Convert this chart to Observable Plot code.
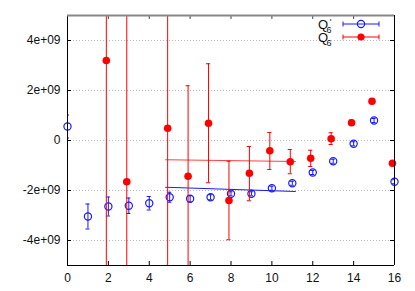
<!DOCTYPE html>
<html>
<head>
<meta charset="utf-8">
<script src="https://cdn.jsdelivr.net/npm/d3@7"></script>
<script src="https://cdn.jsdelivr.net/npm/@observablehq/plot@0.6"></script>
<style>
  html, body { margin: 0; padding: 0; background: #fff; }
  #chart svg { font-family: "Liberation Sans", Arial, sans-serif; }
</style>
</head>
<body>
<div id="chart"></div>
<script>
// ---- data (values in units of 1e9) ----
const xTicks = [0, 2, 4, 6, 8, 10, 12, 14, 16];
const yTicks = [-4e9, -2e9, 0, 2e9, 4e9];
const yTickLabels = ["-4e+09", "-2e+09", "0", "2e+09", "4e+09"];

// Q'6 (open blue circles)
const xQp = [0, 1, 2, 3, 4, 5, 6, 7, 8, 9, 10, 11, 12, 13, 14, 15, 16];
const yQp = [0.56, -3.04, -2.64, -2.61, -2.51, -2.27, -2.33, -2.27, -2.13, -2.13, -1.91, -1.71, -1.28, -0.83, -0.13, 0.80, -1.65];
const eQp = [0.46, 0.50, 0.38, 0.31, 0.27, 0.20, 0.12, 0.10, 0.08, 0.08, 0.08, 0.08, 0.08, 0.08, 0.08, 0.08, 0.08];

// Q6 (filled red circles)
const xQ = [1.9, 2.9, 4.9, 5.9, 6.9, 7.9, 8.9, 9.9, 10.9, 11.9, 12.9, 13.9, 14.9, 15.9];
const yQ = [3.2, -1.65, 0.49, -1.43, 0.69, -2.4, -1.31, -0.41, -0.85, -0.71, 0.07, 0.71, 1.57, -0.91];
const loQ = [-20, -20, -20, -20, -1.69, -3.97, -2.41, -1.16, -1.33, -1.04, -0.16, 0.60, 1.47, -1.0];
const hiQ = [20, 20, 20, 2.19, 3.07, -0.83, -0.24, 0.32, -0.36, -0.39, 0.31, 0.82, 1.67, -0.82];

// fit lines
const fitX = [4.8, 11.15];
const fitQp = [-1.87, -2.04];
const fitQ = [-0.77, -0.84];

const E = 1e9;
const BLUE = "#1a1aff";
const RED = "#ff0000";
const W = 415, H = 291;
const mL = 67, mR = 21, mT = 15, mB = 26;
const pw = W - mL - mR, ph = H - mT - mB;
const cap = 0.1;

const qp = xQp.map((x, i) => ({x, y: yQp[i] * E, lo: (yQp[i] - eQp[i]) * E, hi: (yQp[i] + eQp[i]) * E}));
const q = xQ.map((x, i) => ({x, y: yQ[i] * E, lo: loQ[i] * E, hi: hiQ[i] * E}));
const fitB = fitX.map((x, i) => ({x, y: fitQp[i] * E}));
const fitR = fitX.map((x, i) => ({x, y: fitQ[i] * E}));

const chart = Plot.plot({
  width: W, height: H,
  marginLeft: mL, marginRight: mR, marginTop: mT, marginBottom: mB,
  style: {fontFamily: '"Liberation Sans", Arial, sans-serif', fontSize: "12px", background: "#fff"},
  x: {domain: [0, 16]},
  y: {domain: [-5e9, 5e9]},
  marks: [
    Plot.gridY(yTicks, {stroke: "#b8b8b8", strokeOpacity: 1, strokeDasharray: "1,2"}),
    Plot.axisY(yTicks, {tickSize: 0, tickPadding: 7, label: null, fontSize: 12, fill: "#111",
      tickFormat: (d) => yTickLabels[yTicks.indexOf(d)]}),
    Plot.axisX(xTicks, {tickSize: 0, tickPadding: 8, label: null, fontSize: 12, fill: "#111"}),
    // inward ticks
    Plot.tickY(yTicks, {y: d => d, insetRight: pw - 4, stroke: "#000"}),
    Plot.tickY(yTicks, {y: d => d, insetLeft: pw - 4, stroke: "#000"}),
    Plot.tickX(xTicks, {x: d => d, insetTop: ph - 4, stroke: "#000"}),
    Plot.tickX(xTicks, {x: d => d, insetBottom: ph - 4, stroke: "#444"}),
    // fit lines
    Plot.line(fitB, {x: "x", y: "y", stroke: BLUE, strokeWidth: 1}),
    Plot.line(fitR, {x: "x", y: "y", stroke: RED, strokeWidth: 1, strokeOpacity: 0.75}),
    // Q'6 error bars + points
    Plot.ruleX(qp, {x: "x", y1: "lo", y2: "hi", stroke: BLUE, clip: true}),
    Plot.ruleY(qp, {y: "lo", x1: d => d.x - cap, x2: d => d.x + cap, stroke: BLUE, clip: true}),
    Plot.ruleY(qp, {y: "hi", x1: d => d.x - cap, x2: d => d.x + cap, stroke: BLUE, clip: true}),
    Plot.dot(qp, {x: "x", y: "y", r: 3.6, stroke: BLUE, fill: "none", strokeWidth: 1.2}),
    // Q6 error bars + points
    Plot.ruleX(q, {x: "x", y1: "lo", y2: "hi", stroke: RED, clip: true}),
    Plot.ruleY(q, {y: "lo", x1: d => d.x - cap, x2: d => d.x + cap, stroke: RED, clip: true}),
    Plot.ruleY(q, {y: "hi", x1: d => d.x - cap, x2: d => d.x + cap, stroke: RED, clip: true}),
    Plot.dot(q, {x: "x", y: "y", r: 3.8, fill: RED, stroke: "none"}),
    // border
    Plot.ruleX([0, 16], {stroke: "#000"}),
    Plot.ruleY([-5e9], {stroke: "#000"}),
    Plot.ruleY([5e9], {stroke: "#888", strokeWidth: 2})
  ]
});
document.getElementById("chart").appendChild(chart);

// ---- legend (inside plot, top right) ----
const svg = d3.select(chart);
const lg = svg.append("g").style("font-family", '"Liberation Sans", Arial, sans-serif');
const entries = [
  {y: 24, color: BLUE, open: true, prime: true},
  {y: 37, color: RED, open: false, prime: false}
];
entries.forEach(e => {
  lg.append("line").attr("x1", 343).attr("x2", 379).attr("y1", e.y).attr("y2", e.y)
    .attr("stroke", e.color);
  [343, 379].forEach(x => lg.append("line").attr("x1", x).attr("x2", x)
    .attr("y1", e.y - 2.5).attr("y2", e.y + 2.5).attr("stroke", e.color));
  lg.append("circle").attr("cx", 361).attr("cy", e.y).attr("r", 3.6)
    .attr("fill", e.open ? "none" : e.color).attr("stroke", e.open ? e.color : "none")
    .attr("stroke-width", 1.2);
  lg.append("text").attr("x", 328).attr("y", e.y + 4.5).attr("text-anchor", "end")
    .style("font-size", "13px").style("fill", "#111").text("Q");
  lg.append("text").attr("x", 329).attr("y", e.y + 8.5).style("font-size", "9px")
    .style("fill", "#111").text("6");
  if (e.prime) lg.append("text").attr("x", 330.5).attr("y", e.y + 1).style("font-size", "9px")
    .style("fill", "#111").text("'");
});
</script>
</body>
</html>
